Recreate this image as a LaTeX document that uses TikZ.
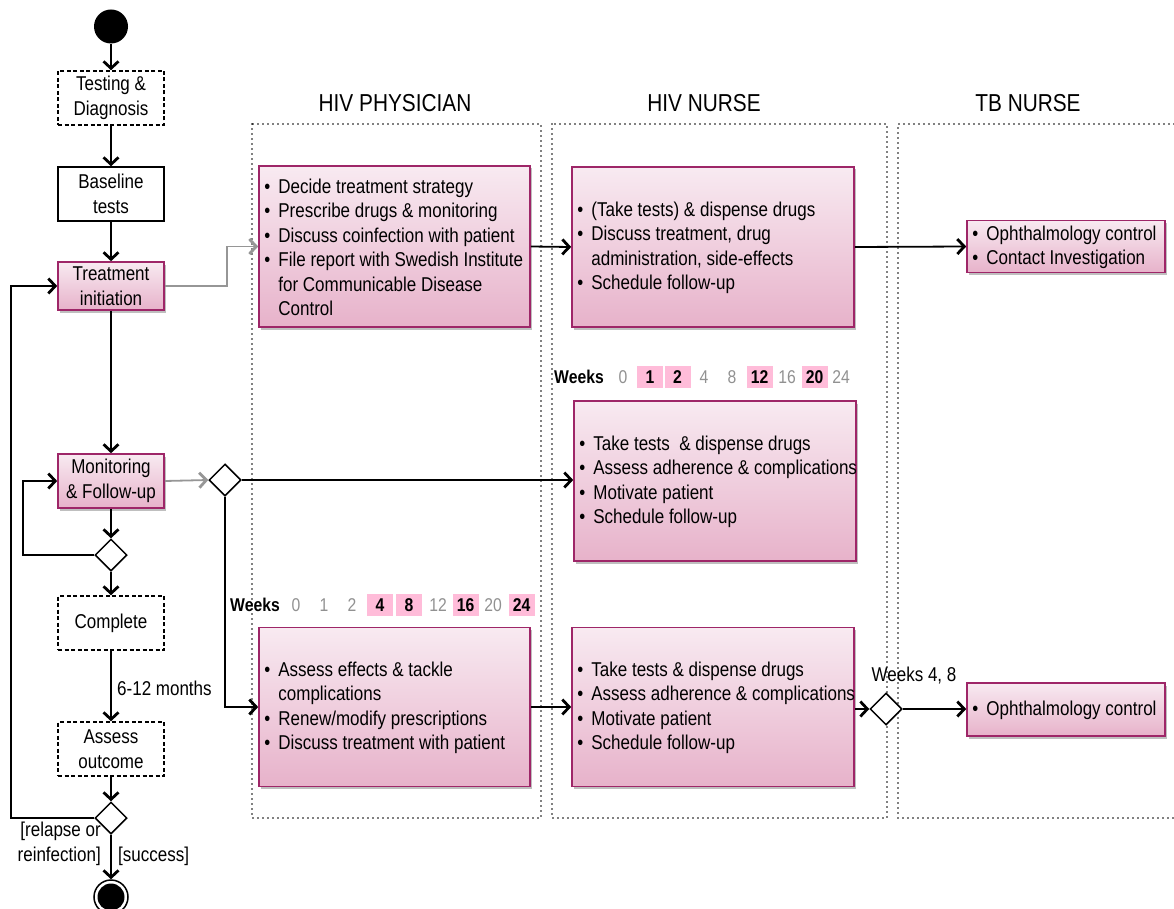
\documentclass[tikz,border=0pt]{standalone}
\usepackage{fontspec}
\setmainfont{Liberation Sans}[FakeStretch=0.85]
\usetikzlibrary{shapes.geometric,arrows.meta,shadows,calc}
\definecolor{pinkB}{RGB}{158,38,104}
\definecolor{pinkT}{RGB}{248,234,241}
\definecolor{pinkD}{RGB}{231,178,202}
\definecolor{wkpink}{RGB}{255,188,217}
\definecolor{gtxt}{RGB}{145,145,145}
\definecolor{garrow}{RGB}{150,150,150}
\newcommand\bul{\makebox[14pt][l]{•}}
\newcommand\ind{\hspace*{14pt}}
\begin{document}
\begin{tikzpicture}[x=1pt,y=-1pt,
  font=\fontsize{20}{24.5}\selectfont,
  every node/.style={inner sep=0pt},
  conn/.style={line width=1.8pt,-{Straight Barb[length=7pt,width=15pt,line width=2.8pt]}},
  gconn/.style={conn,draw=garrow},
  flowbox/.style={draw,line width=1.5pt,minimum width=106pt,minimum height=54pt,align=center},
  dashbox/.style={flowbox,dash pattern=on 4pt off 2.5pt},
  pinkbox/.style={draw=pinkB,line width=1.6pt,top color=pinkT,bottom color=pinkD,
     drop shadow={shadow xshift=2pt,shadow yshift=-2.5pt,fill=black,opacity=0.25}},
  pinkflow/.style={pinkbox,minimum width=106pt,minimum height=52pt,align=center},
  decision/.style={diamond,draw,line width=1.5pt,minimum width=32pt,minimum height=32pt,aspect=1,fill=white},
  lane/.style={line width=1.6pt,dash pattern=on 0pt off 5pt,line cap=round},
  listtxt/.style={align=left,anchor=west},
  header/.style={font=\fontsize{24.5}{24.5}\selectfont},
  wk/.style={font=\fontsize{18.5}{18.5}\selectfont,text=gtxt},
  wkon/.style={font=\bfseries\fontsize{18.5}{18.5}\selectfont,fill=wkpink,minimum width=26pt,minimum height=22pt},
  wklbl/.style={font=\bfseries\fontsize{18.5}{18.5}\selectfont}]
\useasboundingbox (0,0) rectangle (1174,909);

% swimlanes
\draw[lane] (252,124) rectangle (541,818);
\draw[lane] (552,124) rectangle (887,818);
\draw[lane] (1174,124) -- (898,124) -- (898,818) -- (1174,818);
\node[header] (hphys) at (395,103) {HIV PHYSICIAN};
\node[header] (hnurse) at (704,103) {HIV NURSE};
\node[header] (htb) at (1028,103) {TB NURSE};

% left flow
\node[circle,fill=black,minimum size=34pt] (start) at (111,26.5) {};
\node[dashbox] (test) at (111,98) {Testing \&\\Diagnosis};
\node[flowbox] (base) at (111,194) {Baseline\\tests};
\node[pinkflow,minimum height=48pt] (treat) at (111,286) {Treatment\\initiation};
\node[pinkflow,minimum height=54pt] (mon) at (111,481) {Monitoring\\\& Follow-up};
\node[decision] (d1) at (111,555) {};
\node[dashbox] (comp) at (111,623) {Complete};
\node[dashbox] (assess) at (111,749) {Assess\\outcome};
\node[decision] (d2) at (111,818) {};
\node[circle,draw,line width=1.5pt,minimum size=34pt] (end) at (111,897) {};
\fill (end.center) circle (13.5pt);

\node[anchor=west] (months) at (117,688) {6-12 months};
\node[anchor=east,align=right] (relapse) at (101,844) {[relapse or\\reinfection]};
\node[anchor=west] (success) at (118,856) {[success]};

\draw[conn] (start) -- (test);
\draw[conn] (test) -- (base);
\draw[conn] (base) -- (treat);
\draw[conn] (treat) -- (mon);
\draw[conn] (mon) -- (d1);
\draw[conn] (d1) -- (comp);
\draw[conn] (comp) -- (assess);
\draw[conn] (assess) -- (d2);
\draw[conn] (d2) -- (end);
\draw[conn] (d1.west) -- ++(-71,0) |- (mon.west);
\draw[conn] (d2.west) -- ++(-83,0) |- (treat.west);

% physician & nurse boxes
\node[pinkbox,minimum width=271pt,minimum height=161pt] (p1) at (394.5,246.5) {};
\node[listtxt] (p1t) at ([xshift=6pt,yshift=-1pt]p1.west) {\bul Decide treatment strategy\\\bul Prescribe drugs \& monitoring\\\bul Discuss coinfection with patient\\\bul File report with Swedish Institute\\\ind for Communicable Disease\\\ind Control};

\node[pinkbox,minimum width=282pt,minimum height=160pt] (n1) at (713,247) {};
\node[listtxt] (n1t) at ([xshift=6pt,yshift=-1pt]n1.west) {\bul (Take tests) \& dispense drugs\\\bul Discuss treatment, drug\\\ind administration, side-effects\\\bul Schedule follow-up};

\node[pinkbox,minimum width=198pt,minimum height=52pt] (t1) at (1066,246.5) {};
\node[listtxt] (t1t) at ([xshift=6pt,yshift=-1pt]t1.west) {\bul Ophthalmology control\\\bul Contact Investigation};

\node[pinkbox,minimum width=282pt,minimum height=160pt] (n2) at (715,481) {};
\node[listtxt] (n2t) at ([xshift=6pt,yshift=-1pt]n2.west) {\bul Take tests\ \ \& dispense drugs\\\bul Assess adherence \& complications\\\bul Motivate patient\\\bul Schedule follow-up};

\node[pinkbox,minimum width=271pt,minimum height=159pt] (p3) at (394.5,707) {};
\node[listtxt] (p3t) at ([xshift=6pt,yshift=-1pt]p3.west) {\bul Assess effects \& tackle\\\ind complications\\\bul Renew/modify prescriptions\\\bul Discuss treatment with patient};

\node[pinkbox,minimum width=282pt,minimum height=159pt] (n3) at (713,707) {};
\node[listtxt] (n3t) at ([xshift=6pt,yshift=-1pt]n3.west) {\bul Take tests \& dispense drugs\\\bul Assess adherence \& complications\\\bul Motivate patient\\\bul Schedule follow-up};

\node[pinkbox,minimum width=198pt,minimum height=53pt] (t2) at (1066,709.5) {};
\node[listtxt] (t2t) at ([xshift=6pt,yshift=-1pt]t2.west) {\bul Ophthalmology control};

\node[decision] (d3) at (225,480) {};
\node[decision] (d4) at (886,709) {};
\node (w48) at (914,676) {Weeks 4, 8};

% weeks row 1
\node[wklbl] (wa) at (579,377) {Weeks};
\node[wk] (wa0) at (623,377) {0};
\node[wkon] (wa1) at (650,377) {1};
\node[wkon] (wa2) at (677.5,377) {2};
\node[wk] (wa4) at (704,377) {4};
\node[wk] (wa8) at (732,377) {8};
\node[wkon] (wa12) at (759.5,377) {12};
\node[wk] (wa16) at (787,377) {16};
\node[wkon] (wa20) at (814.5,377) {20};
\node[wk] (wa24) at (841,377) {24};

% weeks row 2
\node[wklbl] (wb) at (255,605) {Weeks};
\node[wk] (wb0) at (296,605) {0};
\node[wk] (wb1) at (324,605) {1};
\node[wk] (wb2) at (352,605) {2};
\node[wkon] (wb4) at (380,605) {4};
\node[wkon] (wb8) at (409,605) {8};
\node[wk] (wb12) at (438,605) {12};
\node[wkon] (wb16) at (465.5,605) {16};
\node[wk] (wb20) at (493,605) {20};
\node[wkon] (wb24) at (521.5,605) {24};

% connectors
\draw[gconn] (treat.east) -- ++(62,0) |- (p1.west);
\draw[gconn] (mon.east) -- (d3.west);
\draw[conn] (d3.east) -- (d3.east -| n2.west);
\draw[conn] (d3.south) |- (p3.west);
\draw[conn] (p1.east) -- (n1.west);
\draw[conn] (n1.east) -- (t1.west);
\draw[conn] (p3.east) -- (n3.west);
\draw[conn] (n3.east |- d4.west) -- (d4.west);
\draw[conn] (d4.east) -- (d4.east -| t2.west);
\end{tikzpicture}
\end{document}
